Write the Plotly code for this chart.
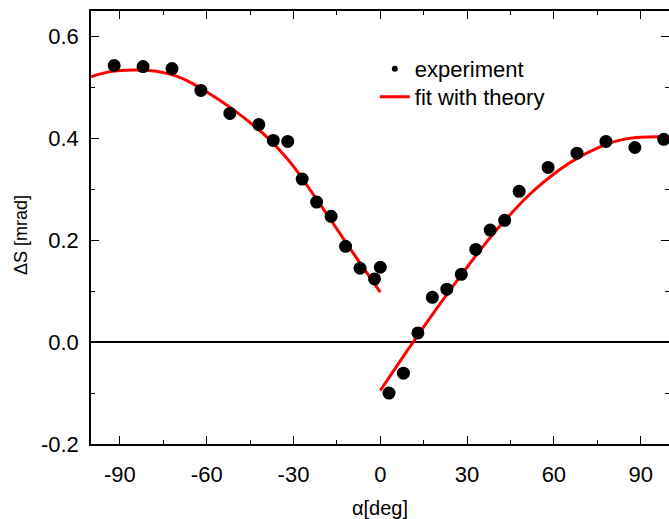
import plotly.graph_objects as go

# experimental points
exp_alpha = [-92, -82, -72, -62, -52, -42, -37, -32, -27, -22, -17, -12, -7, -2, 0,
             3, 8, 13, 18, 23, 28, 33, 38, 43, 48, 58, 68, 78, 88, 98]
exp_dS = [0.543, 0.541, 0.537, 0.494, 0.449, 0.427, 0.396, 0.394, 0.320, 0.275, 0.247,
          0.188, 0.145, 0.124, 0.147,
          -0.100, -0.061, 0.018, 0.088, 0.104, 0.133, 0.182, 0.220, 0.239, 0.296,
          0.343, 0.371, 0.394, 0.382, 0.398]

# fit curve, negative branch
fit_alpha_neg = [-100, -95, -90, -85, -80, -75, -70, -65, -60, -55, -50, -45, -40,
                 -35, -30, -25, -20, -15, -10, -5, 0]
fit_dS_neg = [0.521, 0.529, 0.533, 0.534, 0.533, 0.529, 0.521, 0.508, 0.491, 0.473,
              0.453, 0.431, 0.407, 0.378, 0.345, 0.305, 0.264, 0.222, 0.180, 0.139, 0.098]

# fit curve, positive branch
fit_alpha_pos = [0, 5, 10, 15, 20, 25, 30, 35, 40, 45, 50, 55, 60, 65, 70, 75, 80,
                 85, 90, 95, 100]
fit_dS_pos = [-0.095, -0.053, -0.011, 0.030, 0.070, 0.109, 0.147, 0.184, 0.219, 0.251,
              0.281, 0.307, 0.330, 0.350, 0.367, 0.381, 0.392, 0.399, 0.402, 0.403, 0.402]

x_ticks = [-90, -60, -30, 0, 30, 60, 90]
x_tick_labels = ["-90", "-60", "-30", "0", "30", "60", "90"]
y_ticks = [-0.2, 0.0, 0.2, 0.4, 0.6]
y_tick_labels = ["-0.2", "0.0", "0.2", "0.4", "0.6"]

FONT = "Liberation Sans, Arial, sans-serif"
RED = "#ff0000"

fig = go.Figure()

fig.add_trace(go.Scatter(x=fit_alpha_neg, y=fit_dS_neg, mode="lines",
                         line=dict(color=RED, width=3, shape="spline", smoothing=1),
                         showlegend=False, hoverinfo="skip"))
fig.add_trace(go.Scatter(x=fit_alpha_pos, y=fit_dS_pos, mode="lines",
                         line=dict(color=RED, width=3, shape="spline", smoothing=1),
                         showlegend=False, hoverinfo="skip"))
fig.add_trace(go.Scatter(x=exp_alpha, y=exp_dS, mode="markers",
                         marker=dict(color="black", size=13), showlegend=False))

# legend entries (two separate legends for exact row placement)
fig.add_trace(go.Scatter(x=[None], y=[None], mode="markers", name="experiment",
                         marker=dict(color="black", size=6), legend="legend"))
fig.add_trace(go.Scatter(x=[None], y=[None], mode="lines", name="fit with theory",
                         line=dict(color=RED, width=3), legend="legend2"))

legend_common = dict(xanchor="left", yanchor="top", bgcolor="rgba(0,0,0,0)",
                     font=dict(size=22, family=FONT, color="black"), itemwidth=30)

fig.update_layout(
    width=669, height=519,
    margin=dict(l=91, r=0, t=11, b=75),
    paper_bgcolor="white", plot_bgcolor="white",
    font=dict(family=FONT, color="black", size=22),
    legend=dict(x=0.491, y=0.9145, **legend_common),
    legend2=dict(x=0.491, y=0.850, **legend_common),
    xaxis=dict(range=[-100, 99.8], tickvals=x_ticks, ticktext=x_tick_labels,
               ticks="inside", ticklen=8,
               tickwidth=1, tickcolor="black", showline=True, linecolor="black",
               linewidth=1.5, mirror="ticks", showgrid=False, zeroline=False,
               tickfont=dict(size=22), ticklabelstandoff=10,
               minor=dict(dtick=15, tick0=0, ticks="inside", ticklen=4,
                          tickcolor="black", showgrid=False),
               title=dict(text="α[deg]", font=dict(size=20), standoff=16)),
    yaxis=dict(range=[-0.2, 0.65], tickvals=y_ticks, ticktext=y_tick_labels,
               ticks="inside", ticklen=8, tickwidth=1, tickcolor="black",
               showline=True, linecolor="black", linewidth=1.5, mirror=False,
               showgrid=False, zeroline=True, zerolinecolor="black",
               zerolinewidth=1.5, tickfont=dict(size=22), ticklabelstandoff=6,
               minor=dict(dtick=0.1, tick0=0, ticks="inside", ticklen=4,
                          tickcolor="black", showgrid=False)),
    yaxis2=dict(range=[-0.2, 0.65], overlaying="y", side="right", anchor="x",
                tickvals=y_ticks, ticks="inside", ticklen=8,
                tickcolor="black", showticklabels=False, showline=False,
                showgrid=False, zeroline=False,
                minor=dict(dtick=0.1, tick0=0, ticks="inside", ticklen=4,
                           tickcolor="black", showgrid=False)),
    annotations=[dict(text="ΔS [mrad]", textangle=-90, xref="paper", yref="paper",
                      x=-0.121, y=0.483, xanchor="center", yanchor="middle",
                      showarrow=False, font=dict(size=18, family=FONT))],
)

fig.add_trace(go.Scatter(x=[None], y=[None], yaxis="y2", showlegend=False,
                         hoverinfo="skip"))

fig.write_html("out.html")
